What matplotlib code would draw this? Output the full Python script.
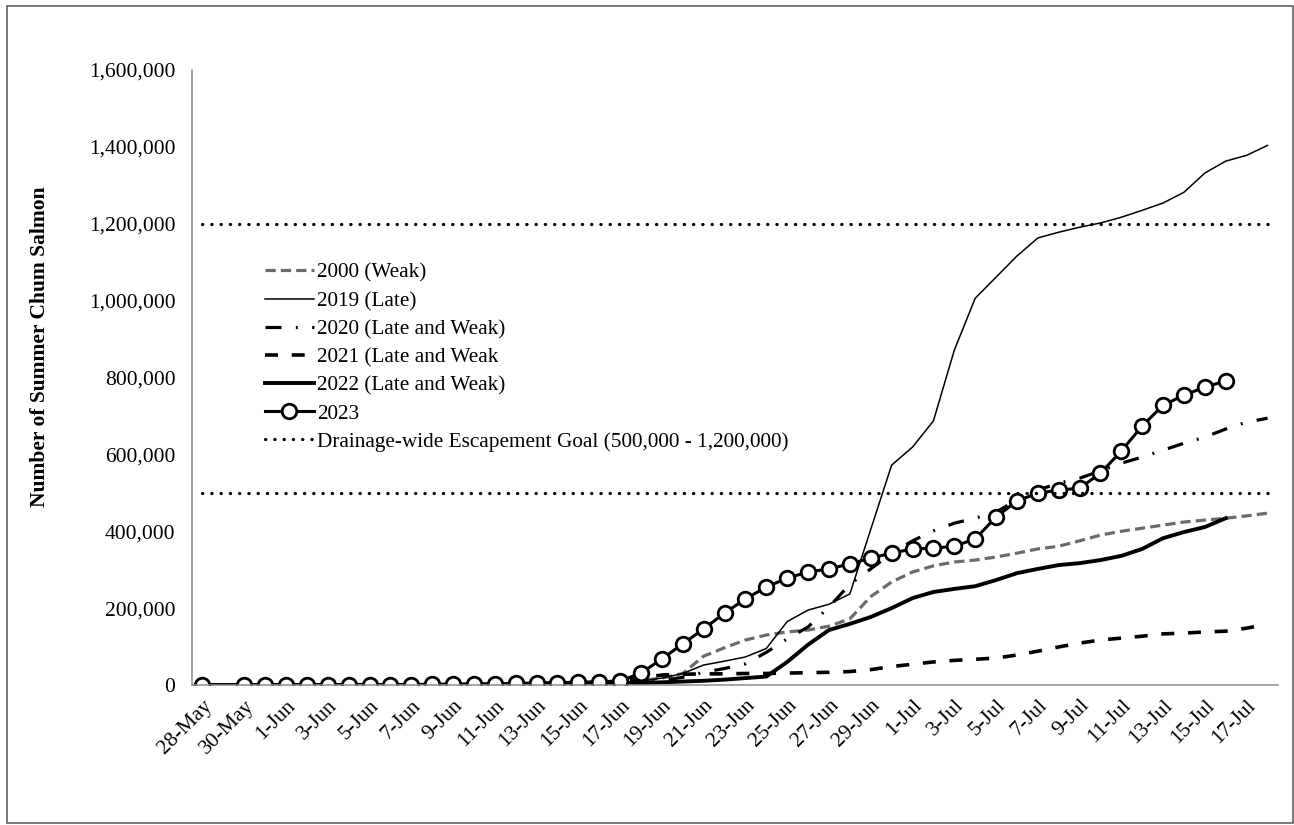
import numpy as np
import matplotlib
matplotlib.use('Agg')
import matplotlib.pyplot as plt
from matplotlib.ticker import FuncFormatter
from matplotlib.patches import Rectangle

plt.rcParams['font.family'] = ['Liberation Serif', 'DejaVu Serif']

# categories: one per day, 28-May .. 18-Jul
dates = ['28-May', '29-May', '30-May', '31-May',
         '1-Jun', '2-Jun', '3-Jun', '4-Jun', '5-Jun', '6-Jun', '7-Jun', '8-Jun', '9-Jun', '10-Jun',
         '11-Jun', '12-Jun', '13-Jun', '14-Jun', '15-Jun', '16-Jun', '17-Jun', '18-Jun', '19-Jun', '20-Jun',
         '21-Jun', '22-Jun', '23-Jun', '24-Jun', '25-Jun', '26-Jun', '27-Jun', '28-Jun', '29-Jun', '30-Jun',
         '1-Jul', '2-Jul', '3-Jul', '4-Jul', '5-Jul', '6-Jul', '7-Jul', '8-Jul', '9-Jul', '10-Jul',
         '11-Jul', '12-Jul', '13-Jul', '14-Jul', '15-Jul', '16-Jul', '17-Jul', '18-Jul']

nan = np.nan

y2000 = [0, 0, 0, 100, 200, 300, 400, 500, 700, 900,
         1100, 1400, 1700, 2100, 2600, 3200, 4000, 5000, 6000, 7000,
         8000, 12000, 18000, 30000, 75000, 97000, 117000, 130000, 138000, 143000,
         153000, 172000, 230000, 268000, 294000, 310000, 320000, 325000, 333000, 343000,
         354000, 361000, 375000, 390000, 400000, 408000, 416000, 424000, 429000, 434000,
         440000, 447000]

y2019 = [0, 0, 0, 0, 100, 100, 200, 300, 400, 500,
         700, 900, 1100, 1400, 1800, 2200, 2700, 3200, 3800, 4400,
         5000, 10000, 18000, 30000, 52000, 62000, 73000, 95000, 165000, 195000,
         210000, 237000, 405000, 572000, 619000, 687000, 871000, 1006000, 1061000, 1116000,
         1163000, 1178000, 1191000, 1202000, 1217000, 1235000, 1254000, 1282000, 1332000, 1363000,
         1378000, 1404000]

y2020 = [0, 0, 0, 0, 0, 100, 100, 200, 300, 400,
         500, 700, 900, 1100, 1400, 1800, 2200, 2700, 3300, 4000,
         5000, 8000, 12000, 20000, 33000, 43000, 55000, 85000, 120000, 151000,
         203000, 262000, 302000, 343000, 375000, 401000, 421000, 434000, 450000, 481000,
         507000, 525000, 538000, 557000, 577000, 593000, 611000, 629000, 645000, 666000,
         684000, 694000]

y2021 = [0, 0, 0, 0, 0, 0, 100, 100, 200, 300,
         400, 500, 700, 900, 1100, 1400, 1800, 2300, 3000, 6000,
         10000, 18000, 26000, 28000, 29000, 29000, 30000, 30000, 31000, 32000,
         33000, 35000, 40000, 48000, 54000, 60000, 64000, 67000, 70000, 78000,
         88000, 99000, 109000, 117000, 122000, 127000, 133000, 135000, 138000, 140000,
         148000, 158000]

y2022 = [0, 0, 0, 0, 0, 0, 0, 100, 100, 200,
         300, 400, 500, 600, 800, 1000, 1200, 1500, 2000, 3000,
         4000, 5000, 7000, 9000, 11000, 14000, 18000, 22000, 60000, 105000,
         143000, 159000, 177000, 200000, 226000, 242000, 250000, 257000, 273000, 291000,
         302000, 312000, 317000, 325000, 336000, 354000, 382000, 398000, 411000, 434000,
         nan, nan]

y2023 = [0, nan, 0, 0, 100, 200, 300, 500, 700, 900,
         1200, 1600, 2100, 2700, 3400, 4300, 5200, 6200, 7300, 8500,
         10400, 31000, 68000, 107000, 146000, 187000, 224000, 255000, 278000, 294000,
         302000, 315000, 330000, 343000, 354000, 356000, 361000, 380000, 437000, 479000,
         499000, 507000, 512000, 551000, 609000, 674000, 728000, 754000, 775000, 791000,
         nan, nan]

goal_low = 500000
goal_high = 1200000

W, H = 1294, 825
fig = plt.figure(figsize=(W / 100, H / 100), dpi=100)
ax = fig.add_axes([192 / W, 140 / H, (1278 - 192) / W, (685 - 70) / H])

x = np.arange(len(dates))

ax.plot(x, y2000, color='#6b6b6b', lw=2.3, dashes=(3.2, 1.6), label='2000 (Weak)')
ax.plot(x, y2019, color='black', lw=1.1, label='2019 (Late)')
ax.plot(x, y2020, color='black', lw=2.3, dashes=(5, 4.5, 0.6, 4.5), label='2020 (Late and Weak)')
ax.plot(x, y2021, color='black', lw=2.6, dashes=(3.6, 3.8), label='2021 (Late and Weak')
ax.plot(x, y2022, color='black', lw=2.8, label='2022 (Late and Weak)')
ax.plot(x, y2023, color='black', lw=2.2, marker='o', ms=10.5, mfc='white', mec='black',
        mew=2.0, label='2023')
ax.plot([x[0], x[-1]], [goal_low, goal_low], color='black', lw=2.3,
        linestyle=(0, (0.1, 2.8)), dash_capstyle='round',
        label='Drainage-wide Escapement Goal (500,000 - 1,200,000)')
ax.plot([x[0], x[-1]], [goal_high, goal_high], color='black', lw=2.3,
        linestyle=(0, (0.1, 2.8)), dash_capstyle='round')

ax.set_xlim(-0.5, len(dates) - 0.5)
ax.set_ylim(0, 1600000)
ax.set_yticks(np.arange(0, 1600001, 200000))
ax.yaxis.set_major_formatter(FuncFormatter(lambda v, p: f'{v:,.0f}'))
ax.set_xticks(x[::2])
ax.set_xticklabels(dates[::2], rotation=45, ha='right', rotation_mode='anchor')

for side in ['top', 'right']:
    ax.spines[side].set_visible(False)
for side in ['left', 'bottom']:
    ax.spines[side].set_color('#8c8c8c')
    ax.spines[side].set_linewidth(1.1)

ax.tick_params(axis='both', length=0, labelsize=15.5)
ax.tick_params(axis='y', pad=12)
ax.tick_params(axis='x', pad=8)

fig.text(40 / W, 1 - 347 / H, 'Number of Summer Chum Salmon', rotation=90,
         ha='center', va='center', fontsize=15.5, fontweight='bold')

ax.legend(loc='upper left', bbox_to_anchor=(265 / W, 1 - 263 / H),
          bbox_transform=fig.transFigure, frameon=False, fontsize=15.3,
          handlelength=2.3, handletextpad=0.15, labelspacing=0.39,
          borderpad=0, borderaxespad=0)

fig.patches.append(Rectangle((7 / W, 2 / H), (1293 - 7) / W, (823 - 6) / H,
                             transform=fig.transFigure, fill=False,
                             ec='#555555', lw=1.1))

fig.savefig('out.png', dpi=100)
